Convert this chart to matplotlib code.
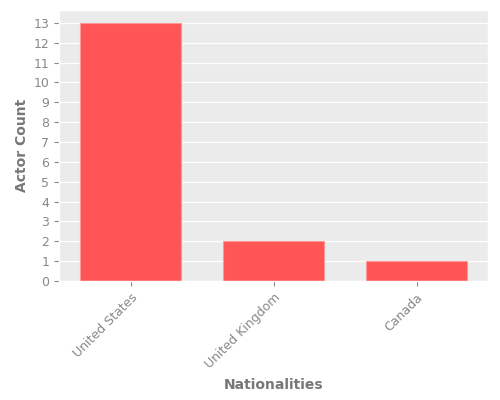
import matplotlib
matplotlib.use('Agg')
import matplotlib.pyplot as plt

plt.style.use('ggplot')

nationalities = ['United States', 'United Kingdom', 'Canada']
actor_counts = [13, 2, 1]

fig = plt.figure(figsize=(5, 4), dpi=100)
ax = fig.add_axes([0.118, 0.2975, 0.858, 0.6775])
ax.set_facecolor('#ebebeb')

ax.bar(nationalities, actor_counts, width=0.7, color='#ff5555',
       edgecolor='#ff9999', linewidth=0.8)
ax.set_yticks(range(0, 14))
ax.set_xlim(-0.5, 2.5)
ax.set_ylim(0, 13.65)
ax.grid(axis='x', visible=False)
ax.grid(axis='y', color='white', linewidth=1)
ax.tick_params(axis='both', labelsize=9, colors='#888888')
plt.setp(ax.get_xticklabels(), rotation=45, ha='right', rotation_mode='anchor')
ax.set_xlabel('Nationalities', fontsize=10, fontweight='bold', color='#777777', labelpad=5)
ax.set_ylabel('Actor Count', fontsize=10, fontweight='bold', color='#777777', labelpad=3)

fig.savefig('out.png', dpi=100)
